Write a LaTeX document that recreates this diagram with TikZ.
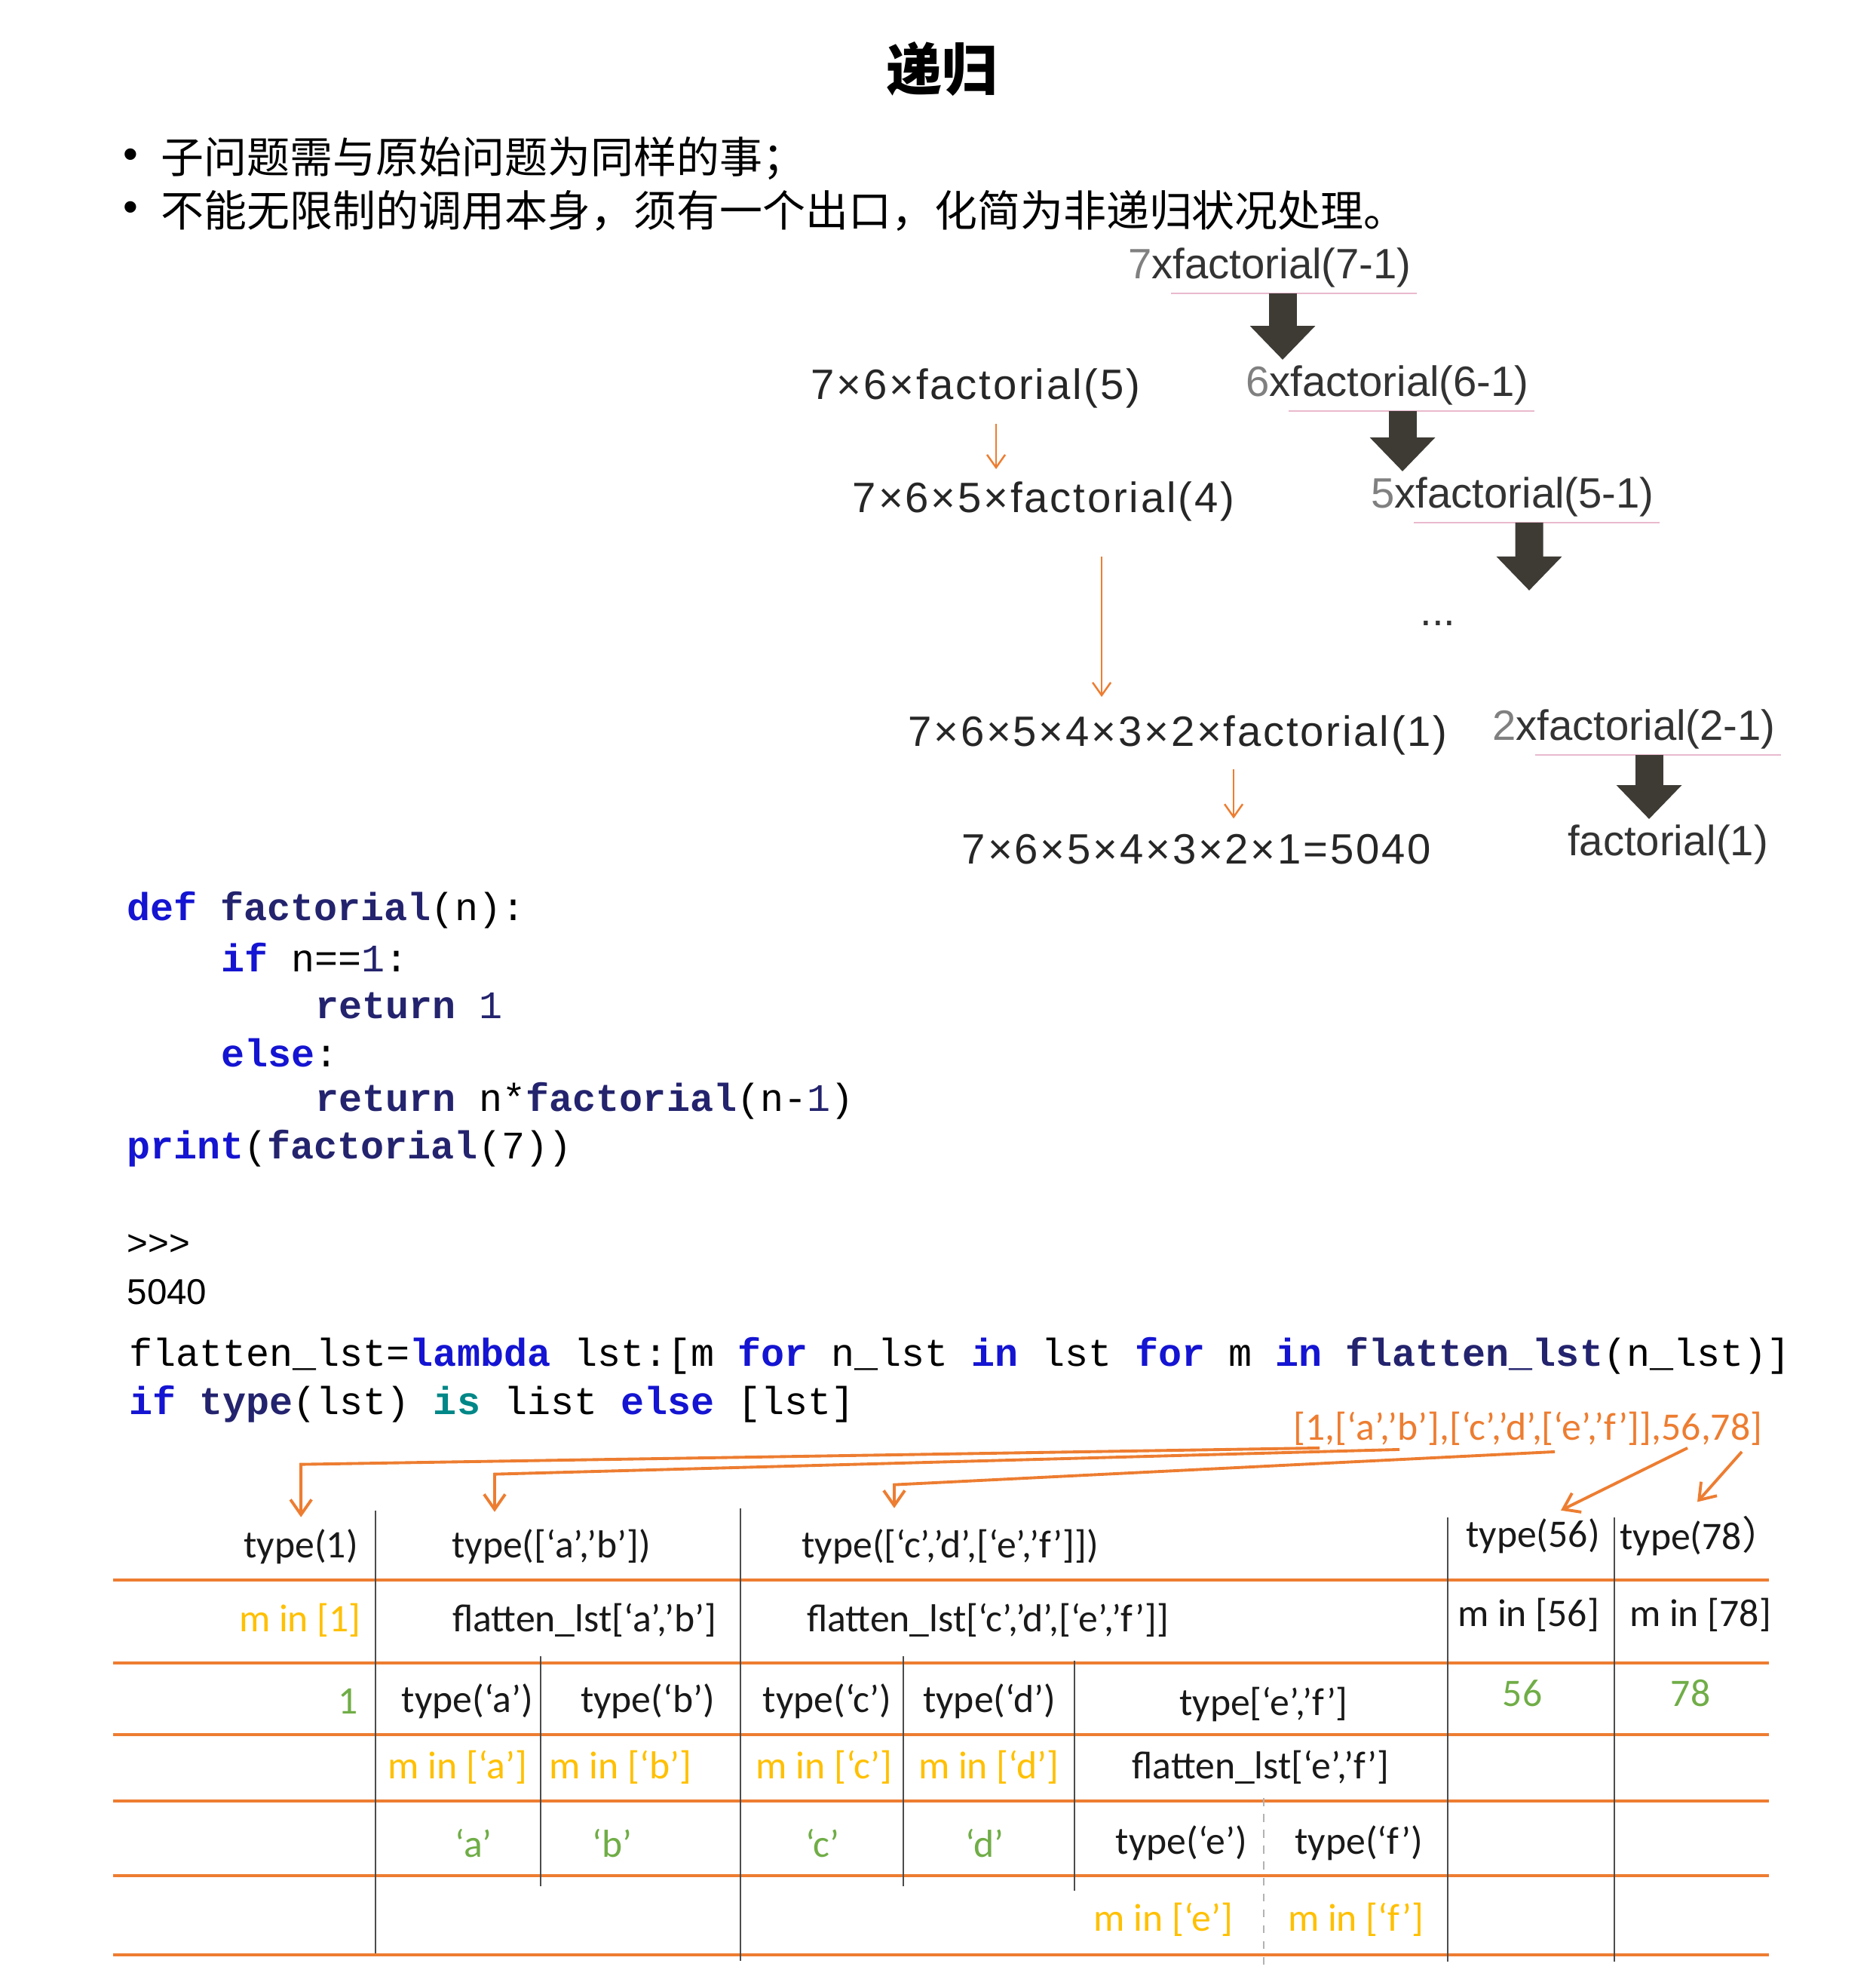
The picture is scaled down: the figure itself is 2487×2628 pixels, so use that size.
\documentclass[tikz,border=0pt]{standalone}
\usepackage{fontspec}
\setmainfont{Liberation Sans}
\newfontfamily\cjkfont{Noto Sans CJK SC}
\newfontfamily\tablefont{Carlito}
\newfontfamily\codefont{Liberation Mono}
\newfontfamily\thinfont[LetterSpace=5]{Liberation Sans}
\usetikzlibrary{arrows.meta}

\definecolor{lineorange}{HTML}{ED7D31}
\definecolor{textgold}{HTML}{FFC000}
\definecolor{textgreen}{HTML}{70AD47}
\definecolor{arrowdark}{HTML}{3E3B35}
\definecolor{linepink}{HTML}{E9B9CD}
\definecolor{kwblue}{HTML}{1414D2}
\definecolor{fnnavy}{HTML}{23236E}
\definecolor{kwteal}{HTML}{008787}

\newcommand{\pykw}[1]{{\bfseries\color{kwblue}#1}}
\newcommand{\pyfn}[1]{{\bfseries\color{fnnavy}#1}}
\newcommand{\pynum}[1]{{\color{fnnavy}#1}}

\begin{document}
\begin{tikzpicture}[
    x=0.01cm, y=-0.01cm,
    headline/.style={font=\cjkfont\bfseries\fontsize{21}{25}\selectfont},
    point/.style={font=\cjkfont\fontsize{16.2}{19}\selectfont, anchor=west, inner sep=0pt},
    bulletdot/.style={font=\fontsize{16}{19}\selectfont, inner sep=0pt},
    call/.style={font=\fontsize{16}{19}\selectfont, text=black!80, inner sep=2pt},
    expansion/.style={font=\thinfont\fontsize{16}{19}\selectfont, text=black!85, inner sep=2pt},
    codeline/.style={font=\codefont\fontsize{14.7}{17}\selectfont, anchor=west, inner sep=0pt},
    shell/.style={font=\fontsize{13.5}{16}\selectfont, anchor=west, inner sep=0pt},
    cell/.style={font=\tablefont\fontsize{14.7}{17}\selectfont, text=black!90, inner sep=3pt},
    bigarrow/.style={draw=arrowdark, line width=0.37cm, -{Triangle[width=0.84cm, length=0.45cm]}},
    thinarrow/.style={draw=lineorange, line width=0.7pt, -{Straight Barb[length=0.17cm, width=0.24cm]}},
    listlink/.style={draw=lineorange, line width=1.1pt, -{Straight Barb[length=0.2cm, width=0.28cm]}},
    underline/.style={draw=linepink, line width=0.8pt},
    rule/.style={draw=lineorange, line width=0.9pt},
    divider/.style={draw=black!70, line width=0.5pt}
]
\fill[white] (0,0) rectangle (2487,2628);
\useasboundingbox (0,0) rectangle (2487,2628);

\node[headline] (title) at (1249,92) {递归};
\node[bulletdot] (b1) at (173,210) {•};
\node[point] (p1) at (213,210) {子问题需与原始问题为同样的事；};
\node[bulletdot] (b2) at (173,280) {•};
\node[point] (p2) at (213,280) {不能无限制的调用本身，须有一个出口，化简为非递归状况处理。};

\node[call] (n7) at (1684,355) {\textcolor{black!50}{7}xfactorial(7-1)};
\node[call] (n6) at (1840,511) {\textcolor{black!50}{6}xfactorial(6-1)};
\node[call] (n5) at (2006,659) {\textcolor{black!50}{5}xfactorial(5-1)};
\node[call] (dots) at (1907,826) {...};
\node[call] (n2) at (2167,967) {\textcolor{black!50}{2}xfactorial(2-1)};
\node[call] (n1) at (2212,1120) {factorial(1)};
\coordinate (etc) at (2028,783);
\foreach \n in {n7,n6,n5,n2}
  \draw[underline] ([xshift=0.64cm]\n.south west) -- (\n.south east);
\draw[bigarrow] ([xshift=0.17cm]n7.south) -- ([xshift=0.17cm]n7.south |- n6.north);
\draw[bigarrow] ([xshift=0.2cm]n6.south) -- ([xshift=0.2cm]n6.south |- n5.north);
\draw[bigarrow] ([xshift=0.22cm]n5.south) -- (etc);
\draw[bigarrow] ([xshift=0.2cm]n2.south) -- ([xshift=0.2cm]n2.south |- n1.north);

\node[expansion] (e5) at (1294,515) {7×6×factorial(5)};
\node[expansion] (e4) at (1384,665) {7×6×5×factorial(4)};
\node[expansion] (e1) at (1562,975) {7×6×5×4×3×2×factorial(1)};
\node[expansion] (e0) at (1587,1126) {7×6×5×4×3×2×1=5040};
\draw[thinarrow, shorten <=0.13cm, shorten >=0.09cm] ([xshift=0.27cm]e5.south) -- ([xshift=0.27cm]e5.south |- e4.north);
\draw[thinarrow, shorten <=0.39cm, shorten >=0.17cm] ([xshift=0.77cm]e4.south) -- ([xshift=0.77cm]e4.south |- e1.north);
\draw[thinarrow, shorten <=0.11cm, shorten >=0.13cm] ([xshift=0.74cm]e1.south) -- ([xshift=0.74cm]e1.south |- e0.north);

\node[codeline] (c1) at (168,1207) {\pykw{def} \pyfn{factorial}(n):};
\node[codeline] (c2) at (293,1269) {\pykw{if} n==\pynum{1}:};
\node[codeline] (c3) at (418,1334) {\pyfn{return} \pynum{1}};
\node[codeline] (c4) at (293,1396) {\pykw{else}:};
\node[codeline] (c5) at (418,1460) {\pyfn{return} n*\pyfn{factorial}(n-\pynum{1})};
\node[codeline] (c6) at (168,1523) {\pykw{print}(\pyfn{factorial}(7))};

\node[shell] (prompt) at (168,1651) {>{}>{}>};
\node[shell] (result) at (168,1713) {5040};

\node[codeline] (l1) at (171,1798) {flatten\_lst=\pykw{lambda} lst:[m \pykw{for} n\_lst \pykw{in} lst \pykw{for} m \pykw{in} \pyfn{flatten\_lst}(n\_lst)]};
\node[codeline] (l2) at (171,1862) {\pykw{if} \pyfn{type}(lst) {\bfseries\color{kwteal}is} list \pykw{else} [lst]};

\node[cell, anchor=west, inner sep=0pt, text=lineorange] (lst) at (1715,1894) {[1,[‘a’,’b’],[‘c’,’d’,[‘e’,’f’]],56,78]};

\node[cell, anchor=east] (t1) at (486,2051) {type(1)};
\node[cell] (t2) at (731,2051) {type([‘a’,’b’])};
\node[cell] (t3) at (1260,2051) {type([‘c’,’d’,[‘e’,’f’]])};
\node[cell] (t56) at (2033,2037) {type(56)};
\node[cell] (t78) at (2255,2037) {type(78{\cjkfont ）}};

\node[cell, anchor=east, text=textgold] (m1) at (490,2148) {m in [1]};
\node[cell] (f2) at (775,2148) {flatten\_lst[‘a’,’b’]};
\node[cell] (f3) at (1310,2148) {flatten\_lst[‘c’,’d’,[‘e’,’f’]]};
\node[cell] (m56) at (2027,2141) {m in [56]};
\node[cell] (m78) at (2255,2141) {m in [78]};

\node[cell, anchor=east, text=textgreen] (v1) at (486,2256) {1};
\node[cell] (ta) at (620,2256) {type(‘a’)};
\node[cell] (tb) at (859,2256) {type(‘b’)};
\node[cell] (tc) at (1097,2256) {type(‘c’)};
\node[cell] (td) at (1312,2256) {type(‘d’)};
\node[cell] (tef) at (1676,2260) {type[‘e’,’f’]};
\node[cell, text=textgreen] (v56) at (2019,2245) {56};
\node[cell, text=textgreen] (v78) at (2242,2245) {78};

\node[cell, text=textgold] (ma) at (607,2343) {m in [‘a’]};
\node[cell, text=textgold] (mb) at (823,2343) {m in [‘b’]};
\node[cell, text=textgold] (mc) at (1093,2343) {m in [‘c’]};
\node[cell, text=textgold] (md) at (1311,2343) {m in [‘d’]};
\node[cell] (fef) at (1672,2343) {flatten\_lst[‘e’,’f’]};

\node[cell, text=textgreen] (va) at (628,2444) {‘a’};
\node[cell, text=textgreen] (vb) at (812,2444) {‘b’};
\node[cell, text=textgreen] (vc) at (1091,2444) {‘c’};
\node[cell, text=textgreen] (vd) at (1306,2444) {‘d’};
\node[cell] (te) at (1567,2444) {type(‘e’)};
\node[cell] (tf) at (1802,2444) {type(‘f’)};

\node[cell, text=textgold] (me) at (1543,2545) {m in [‘e’]};
\node[cell, text=textgold] (mf) at (1798,2545) {m in [‘f’]};

\draw[listlink] ([shift={(35,3)}]lst.south west) -- ([yshift=0.75cm]t1.north) -- ([yshift=0.05cm]t1.north);
\draw[listlink] ([shift={(141,5)}]lst.south west) -- ([xshift=-0.75cm, yshift=0.62cm]t2.north) -- ([xshift=-0.75cm, yshift=0.12cm]t2.north);
\draw[listlink] ([shift={(347,8)}]lst.south west) -- ([xshift=-0.74cm, yshift=0.48cm]t3.north) -- ([xshift=-0.74cm, yshift=0.17cm]t3.north);
\draw[listlink] ([shift={(523,3)}]lst.south west) -- ([xshift=0.37cm]t56.north);
\draw[listlink] ([shift={(595,8)}]lst.south west) -- ([xshift=-0.04cm, yshift=0.08cm]t78.north);

\foreach \y in {2095,2205,2300,2388,2487,2592}
  \draw[rule] (150,\y) -- (2346,\y);
\foreach \x/\a/\b in {498/2003/2590, 717/2196/2501, 982/2000/2600, 1198/2196/2501, 1425/2202/2507, 1920/2012/2601, 2141/2012/2601}
  \draw[divider] (\x,\a) -- (\x,\b);
\draw[divider, black!30, dashed] (1676,2384) -- (1676,2605);
\end{tikzpicture}
\end{document}
